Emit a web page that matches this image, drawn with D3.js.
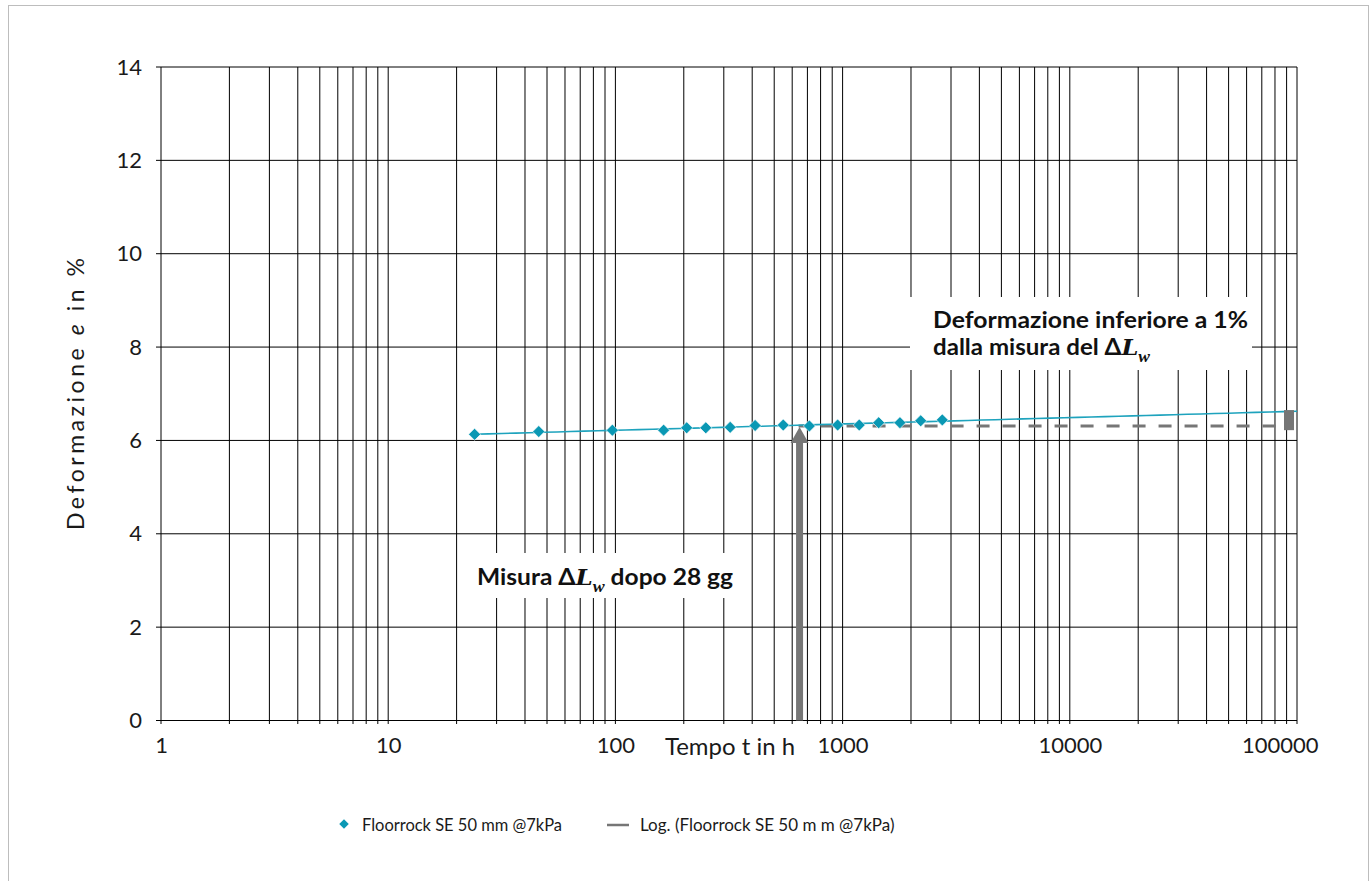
<!DOCTYPE html>
<html><head><meta charset="utf-8">
<script src="https://cdn.jsdelivr.net/npm/d3@7"></script>
<style>
html,body{margin:0;padding:0;background:#fff;}
svg{display:block;font-family:Lato,"Open Sans",sans-serif;}
</style></head>
<body>
<svg id="c" width="1372" height="881"></svg>
<script>
// ---- data ----
const timesH = [24, 46, 97, 163, 206, 250, 320, 412, 548, 714, 951, 1184, 1442, 1788, 2207, 2747];
const deformation = [6.13, 6.19, 6.22, 6.22, 6.27, 6.27, 6.28, 6.32, 6.33, 6.31, 6.33, 6.33, 6.38, 6.38, 6.42, 6.44];
const yTicks = [0, 2, 4, 6, 8, 10, 12, 14];
const xLabelTicks = [1, 10, 100, 1000, 10000, 100000];
const seriesName = "Floorrock SE 50 mm @7kPa";
const trendName = "Log. (Floorrock SE 50 m m @7kPa)";
const measureT = 640;       // 28 days marker (position as drawn)
const measureLevel = 6.31;  // dashed reference level
const endT = 100000;
const barRange = [6.22, 6.65];

const svg = d3.select("#c");
const x = d3.scaleLog().domain([1, 100000]).range([161, 1297]);
const y = d3.scaleLinear().domain([0, 14]).range([720.5, 67]);
const teal = "#0a98b4";
const gray = "#767676";
const txt = "#1a1a1a";

// outer border
svg.append("rect").attr("x", 8.5).attr("y", 5.5).attr("width", 1360).attr("height", 900)
  .attr("fill", "none").attr("stroke", "#bdbdbd").attr("stroke-width", 1);

// grid
const g = svg.append("g");
g.selectAll("line.v").data(x.ticks()).join("line")
  .attr("x1", d => x(d)).attr("x2", d => x(d)).attr("y1", y(14)).attr("y2", y(0) + 3.5)
  .attr("stroke", "#000").attr("stroke-width", 1);
g.selectAll("line.h").data(yTicks).join("line")
  .attr("x1", 156).attr("x2", x(100000)).attr("y1", d => y(d)).attr("y2", d => y(d))
  .attr("stroke", "#000").attr("stroke-width", 1);

// axes labels via d3 axes
const yAxis = d3.axisLeft(y).tickValues(yTicks).tickSize(0).tickPadding(19);
const ya = svg.append("g").attr("transform", "translate(161,0)").call(yAxis);
ya.select(".domain").remove();
ya.selectAll("text").attr("font-size", 22).attr("fill", txt).attr("font-family", "Lato");

const xAxis = d3.axisBottom(x).tickValues(xLabelTicks).tickFormat(d3.format("d")).tickSize(0);
const xa = svg.append("g").attr("transform", `translate(0,${y(0)})`).call(xAxis);
xa.select(".domain").remove();
xa.selectAll("text").attr("font-size", 22).attr("fill", txt).attr("font-family", "Lato")
  .attr("y", 32.5).attr("dy", 0)
  .attr("text-anchor", d => d === 100000 ? "end" : "middle")
  .attr("dx", d => d === 100000 ? 21 : 0);

// axis titles
svg.append("text").attr("x", 665).attr("y", 755)
  .attr("font-size", 23).attr("fill", txt).attr("textLength", 130).attr("lengthAdjust", "spacingAndGlyphs")
  .text("Tempo t in h");
const yt = svg.append("text").attr("transform", "translate(84,530) rotate(-90)")
  .attr("font-size", 23).attr("fill", txt).attr("textLength", 272).attr("lengthAdjust", "spacing");
yt.append("tspan").text("Deformazione ");
yt.append("tspan").attr("font-style", "italic").text("e");
yt.append("tspan").text(" in %");

// annotation boxes (white, cover grid)
svg.append("rect").attr("x", 468).attr("y", 553).attr("width", 277).attr("height", 45).attr("fill", "#fff");
svg.append("rect").attr("x", 910).attr("y", 297).attr("width", 342).attr("height", 73).attr("fill", "#fff");

// dashed reference level
svg.append("line").attr("x1", x(measureT)).attr("x2", 1284)
  .attr("y1", y(measureLevel)).attr("y2", y(measureLevel))
  .attr("stroke", gray).attr("stroke-width", 3).attr("stroke-dasharray", "13,13").attr("stroke-dashoffset", 4);

// logarithmic trend line from data (least squares on ln t)
const lx = timesH.map(Math.log);
const mx = d3.mean(lx), my = d3.mean(deformation);
const b = d3.sum(lx.map((v, i) => (v - mx) * (deformation[i] - my))) / d3.sum(lx.map(v => (v - mx) ** 2));
const a = my - b * mx;
const trendT = d3.range(0, 61).map(i => timesH[0] * Math.pow(endT / timesH[0], i / 60));
svg.append("path").datum(trendT)
  .attr("d", d3.line().x(t => x(t)).y(t => y(a + b * Math.log(t))))
  .attr("fill", "none").attr("stroke", "#1ea3bd").attr("stroke-width", 1.6);

// arrow at 28 days
const ax = x(measureT) + 1;
svg.append("rect").attr("x", ax - 3.5).attr("y", 441).attr("width", 7).attr("height", y(0) - 441)
  .attr("fill", gray);
svg.append("path").attr("d", `M${ax},427 L${ax + 9},443 L${ax - 9},443 Z`).attr("fill", gray);

// data points (diamonds)
svg.selectAll("path.pt").data(timesH).join("path")
  .attr("transform", (d, i) => `translate(${x(d)},${y(deformation[i])}) rotate(45)`)
  .attr("d", d3.symbol().type(d3.symbolSquare).size(72)())
  .attr("fill", teal).attr("stroke", "#fff").attr("stroke-width", 0.6);

// difference bar at end
svg.append("rect").attr("x", 1284).attr("y", y(barRange[1])).attr("width", 10)
  .attr("height", y(barRange[0]) - y(barRange[1])).attr("fill", gray);

// annotation texts
function deltaL(t) {
  t.append("tspan").text("Δ");
  t.append("tspan").attr("font-family", "'DejaVu Serif','Liberation Serif',serif").attr("font-style", "italic").attr("font-weight", "bold").text("L");
  t.append("tspan").attr("font-family", "'Liberation Serif',serif").attr("font-style", "italic").attr("font-weight", "bold").attr("font-size", 16).attr("dy", 7).text("w");
}
const t1 = svg.append("text").attr("x", 477).attr("y", 585).attr("font-size", 22).attr("font-weight", "bold").attr("fill", "#111");
t1.append("tspan").text("Misura ");
deltaL(t1);
t1.append("tspan").attr("dy", -7).text(" dopo 28 gg");
t1.attr("textLength", 256).attr("lengthAdjust", "spacingAndGlyphs");

svg.append("text").attr("x", 933).attr("y", 328).attr("font-size", 22).attr("font-weight", "bold").attr("fill", "#111")
  .attr("textLength", 315).attr("lengthAdjust", "spacingAndGlyphs")
  .text("Deformazione inferiore a 1%");
const t2 = svg.append("text").attr("x", 933).attr("y", 355).attr("font-size", 22).attr("font-weight", "bold").attr("fill", "#111")
  .attr("textLength", 217).attr("lengthAdjust", "spacingAndGlyphs");
t2.append("tspan").text("dalla misura del ");
deltaL(t2);

// legend
svg.append("path").attr("transform", "translate(344,824) rotate(45)")
  .attr("d", d3.symbol().type(d3.symbolSquare).size(45)()).attr("fill", teal);
svg.append("text").attr("x", 362).attr("y", 831).attr("font-size", 17).attr("fill", txt)
  .attr("textLength", 200).attr("lengthAdjust", "spacingAndGlyphs").text(seriesName);
svg.append("line").attr("x1", 607).attr("x2", 629).attr("y1", 825).attr("y2", 825)
  .attr("stroke", gray).attr("stroke-width", 2.5);
svg.append("text").attr("x", 640).attr("y", 831).attr("font-size", 17).attr("fill", txt).text(trendName);
</script>
</body></html>
